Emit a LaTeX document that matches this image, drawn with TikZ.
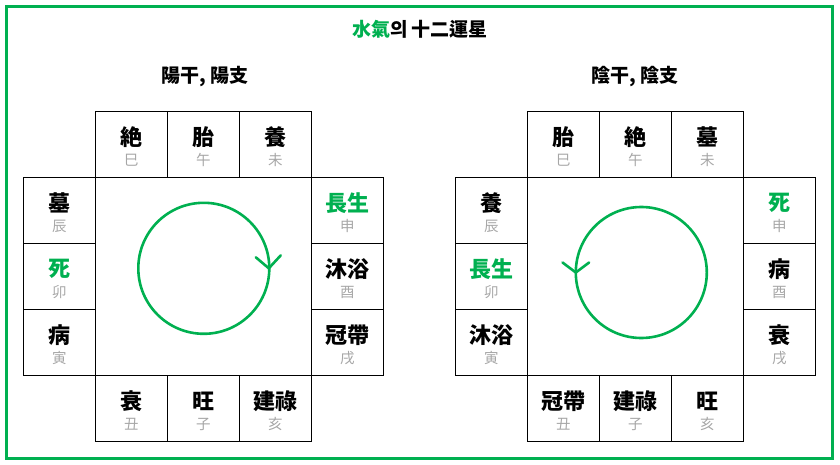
\documentclass[tikz,border=0pt]{standalone}
\usepackage{fontspec}
\setmainfont{Noto Sans CJK KR}
\definecolor{wgreen}{HTML}{00B050}
\definecolor{brgray}{HTML}{A6A6A6}
\begin{document}
\begin{tikzpicture}[x=1pt, y=-1pt,
  cell/.style={draw, line width=0.8pt, minimum width=72pt, minimum height=66pt, inner sep=0},
  stage/.style={font=\bfseries\fontsize{22}{26}\selectfont, inner sep=0},
  branch/.style={text=brgray, font=\fontsize{14.5}{17}\selectfont, inner sep=0},
  head/.style={font=\bfseries\fontsize{19}{23}\selectfont, inner sep=0},
  ring/.style={draw=wgreen, line width=2.6pt, line cap=round, line join=round}]
\useasboundingbox (0,0) rectangle (840,465);
\draw[wgreen, line width=3pt] (6.5,6.5) rectangle (832.5,458.5);
\node[head] (title) at (420,29) {{\color{wgreen}水氣}의 十二運星};
\node[head] (yang-head) at (204.7,76.5) {陽干, 陽支};
\node[head] (eum-head) at (635,76.5) {陰干, 陰支};
% yang stems and branches
\foreach \n/\c/\r/\m/\b/\t in {sa/1/0/絶/巳/black, o/2/0/胎/午/black, mi/3/0/養/未/black,
    sin/4/1/長生/申/wgreen, yu/4/2/沐浴/酉/black, sul/4/3/冠帶/戌/black,
    hae/3/4/建祿/亥/black, ja/2/4/旺/子/black, chuk/1/4/衰/丑/black,
    in/0/3/病/寅/black, myo/0/2/死/卯/wgreen, jin/0/1/墓/辰/black}
  {\node[cell] (yang-\n) at (59.3+72*\c, 144.3+66*\r) {};
   \node[stage, text=\t] (yang-\n-m) at ([yshift=7]yang-\n.center) {\m};
   \node[branch] (yang-\n-b) at ([yshift=-16]yang-\n.center) {\b};}
% eum stems and branches
\foreach \n/\c/\r/\m/\b/\t in {sa/1/0/胎/巳/black, o/2/0/絶/午/black, mi/3/0/墓/未/black,
    sin/4/1/死/申/wgreen, yu/4/2/病/酉/black, sul/4/3/衰/戌/black,
    hae/3/4/旺/亥/black, ja/2/4/建祿/子/black, chuk/1/4/冠帶/丑/black,
    in/0/3/沐浴/寅/black, myo/0/2/長生/卯/wgreen, jin/0/1/養/辰/black}
  {\node[cell] (eum-\n) at (491.3+72*\c, 144.3+66*\r) {};
   \node[stage, text=\t] (eum-\n-m) at ([yshift=7]eum-\n.center) {\m};
   \node[branch] (eum-\n-b) at ([yshift=-16]eum-\n.center) {\b};}
% turning direction
\coordinate (yang-c) at (203.8,268.3);
\coordinate (eum-c) at (641.3,272.5);
\draw[ring] (yang-c) circle (65.5);
\draw[ring] (yang-c) ++(52,-11) -- ++(13,11) -- ++(12,-13);
\draw[ring] (eum-c) circle (65.5);
\draw[ring] (eum-c) ++(-78.8,-10) -- ++(13.3,10) -- ++(13.3,-10);
\end{tikzpicture}
\end{document}
